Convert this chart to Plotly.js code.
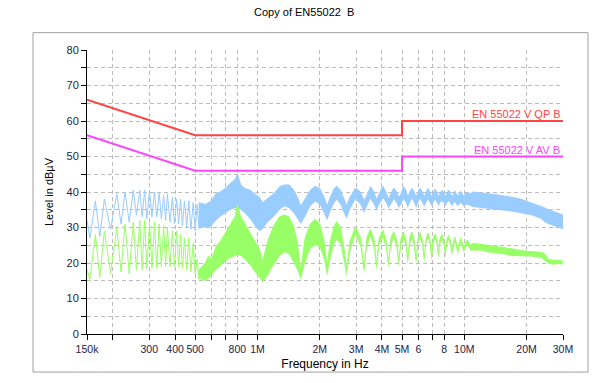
<!DOCTYPE html>
<html>
<head>
<meta charset="utf-8">
<script src="https://cdn.plot.ly/plotly-3.0.1.min.js"></script>
<style>
html,body{margin:0;padding:0;background:#fff;}
#chart{width:600px;height:383px;}
</style>
</head>
<body>
<div id="chart"></div>
<script>
// ---- Limit lines (frequency in MHz, level in dBµV) ----
const qpFreq  = [0.15, 0.5, 5, 5, 30];
const qpLevel = [66, 56, 56, 60, 60];
const avFreq  = [0.15, 0.5, 5, 5, 30];
const avLevel = [56, 46, 46, 50, 50];

// ---- Low-frequency part of the scans (individual oscillations) ----
const lowFreq = [0.150,0.155,0.1646,0.173,0.182,0.195,0.209,0.219,0.229,0.240,0.251,0.260,0.270,0.277,0.285,0.292,0.301,0.309,0.318,0.326,0.335,0.343,0.352,0.360,0.367,0.378,0.388,0.397,0.407,0.416,0.425,0.434,0.444,0.455,0.466,0.477,0.489,0.500,0.511,0.522];
const blueLow = [32,27,37.5,27.5,38,29.5,39.5,31,40,31.5,40.5,33.5,40.5,33,40.5,32.5,40.5,33,40,33,40,32.5,39,32,39.5,31.5,38.5,31,38,31,38,30.5,37.5,30,37.5,29.5,37,29,36.5,29.5];
const greenLow = [18,15.5,28,16,29,17,30,17.5,31,17,31.5,18,32,18,32,18.5,31.5,18.5,31.5,18.5,31,19,30.5,19,30,19,29,19,29,19,28,18.5,27,18,27,17.5,25.5,17,21,15.5];

// ---- Dense part of the scans: upper / lower envelope ----
const bandFreq = [0.52,0.56,0.58,0.60,0.63,0.66,0.70,0.74,0.78,0.80,0.83,0.87,0.92,0.97,1.02,1.06,
  1.12,1.2,1.28,1.35,1.42,1.5,1.56,1.62,
  1.7,1.8,1.9,2.0,2.1,2.17,
  2.25,2.35,2.42,2.52,2.62,2.7,
  2.8,2.98,3.15,3.28,
  3.38,3.52,3.66,3.76,
  3.88,4.04,4.18,4.3,
  4.42,4.56,4.7,4.82,
  4.95,5.08,5.22,5.33,
  5.45,5.58,5.72,5.85,
  5.98,6.12,6.27,6.4,
  6.54,6.68,6.82,6.95,
  7.08,7.22,7.37,7.5,
  7.65,7.8,7.95,8.1,
  8.25,8.4,8.55,8.7,
  9.0,9.3,9.6,9.95,10.3,10.7,
  11,12,13,14,15,16,17,18.7,21,23.5,24.5,25.5,27,28.5,30];
const blueHigh = [37,36.5,37,37.5,39.5,40,41,42.5,43.5,45,42,41,40.5,39.5,38.5,37,
  38,39.5,41.5,42,42,40.5,38.5,36,
  38,40.5,41.6,41,38.5,36,
  38.5,41,41.6,40.5,38,36,
  38.5,41.1,40,37.5,
  39,41.5,40,37.8,
  39.5,41.6,40,38,
  39.5,41.1,40,38.5,
  39.5,41.5,40.5,38.5,
  40,41,40,38.5,
  40,41,40,38.5,
  40,41,40,38.5,
  39.8,40.8,39.8,38.5,
  39.8,40.5,39.8,38.5,
  39.8,40.5,39.8,38.5,
  40.3,38.8,40.2,38.8,40,39.5,
  40,39.8,39.5,39.3,39,38.8,38.5,38,37,36,35.5,35,34.5,34,33.5];
const blueLowEnv = [30,30,30,30.5,32,33,34,35,35.5,35.5,35,34,32.5,30.5,29,29.5,
  31.5,33,35,36,35.5,34,32.5,31,
  33,36,37.3,36.5,34,32,
  34.5,37,37.8,36.5,34,32.5,
  35,38,36.5,34,
  36,38,36.5,34.9,
  36.5,38.3,37,35.4,
  36.5,38,37,35.5,
  36.5,38,37,35.5,
  37,38,37,35.5,
  37,38,37,35.8,
  37,37.8,37,36,
  37,37.8,37,36,
  37,37.5,37,36,
  37,37.5,36.8,36,
  37.2,36,37,36,36.5,36,
  35.8,35.5,35.3,35,35,34.8,34.5,34,33.5,32.5,31.5,31,30.5,30,29.5];
const greenHigh = [18,20,22,21,24.5,26,28.5,31,33,36.5,33,31,28.5,26,24,20.5,
  26,30.5,33,33.5,33,30,25.5,18,
  27,31,32.3,31,26,19,
  26,30.5,31.6,30,24,18,
  26,30.2,27,18.5,
  27,29.5,26.5,19.5,
  27,29.2,26.5,20,
  27,28.8,26.5,20.5,
  27,28.7,26.5,21,
  27,28.7,26.5,21,
  27,28.6,26.5,21.5,
  27,28.4,26.5,22,
  27,28.2,26.5,22.5,
  27,28,26.5,23,
  26.8,27.8,26.5,23.5,
  27.3,24,27,24.5,26.5,25,
  25.5,25.3,25,24.8,24.5,24.2,24,23.5,23.3,23,22.5,21,20.8,20.8,20.5];
const greenLowEnv = [15.5,15,15.5,16.5,18,19,20.5,21.5,22,22.5,22,21,19.5,17.5,16,14.5,
  16.5,19.5,22,23,22.5,20,18,15.3,
  20,24,25,24.5,21,16.3,
  21,25.5,26.5,25.5,20,16.3,
  23,28,24.5,17,
  24.5,27.5,24,18,
  25,27.2,24.5,18.5,
  25,27,24.5,19,
  25,27,24.5,19.5,
  25,27,24.5,19.5,
  25.5,27,25,20,
  25.5,27,25,20.5,
  25.5,26.8,25,21,
  25.5,26.5,25,21.5,
  25.5,26.5,25,22,
  26,22.5,25.5,23,25.2,23.5,
  23.5,23.5,23,22.8,22.5,22.3,22,22,21.8,21.5,20.5,19.8,19.5,19.7,19.6];

// ---- Axis ticks ----
const xTickVals = [0.15,0.2,0.3,0.4,0.5,0.6,0.7,0.8,1,2,3,4,5,6,7,8,10,20,30];
const xTickText = ["150k","","300","400","500","","","800","1M","2M","3M","4M","5M","6","","8","10M","20M","30M"];
const yTickVals = [0,10,20,30,40,50,60,70,80];

const BLUE = '#99ccff', GREEN = '#99ff66', RED = '#ff4444', MAG = '#ff44ff';

const traces = [
  {x: bandFreq, y: blueLowEnv, mode:'lines', line:{width:0, color:BLUE}, hoverinfo:'skip'},
  {x: bandFreq, y: blueHigh, mode:'lines', line:{width:1, color:BLUE}, fill:'tonexty', fillcolor:BLUE, hoverinfo:'skip'},
  {x: lowFreq, y: blueLow, mode:'lines', line:{width:1, color:BLUE}, hoverinfo:'skip'},
  {x: bandFreq, y: greenLowEnv, mode:'lines', line:{width:0, color:GREEN}, hoverinfo:'skip'},
  {x: bandFreq, y: greenHigh, mode:'lines', line:{width:1, color:GREEN}, fill:'tonexty', fillcolor:GREEN, hoverinfo:'skip'},
  {x: lowFreq, y: greenLow, mode:'lines', line:{width:1, color:GREEN}, hoverinfo:'skip'},
  {x: qpFreq, y: qpLevel, mode:'lines', line:{width:2, color:RED}, hoverinfo:'skip'},
  {x: avFreq, y: avLevel, mode:'lines', line:{width:2, color:MAG}, hoverinfo:'skip'}
];

const FONT = 'Liberation Sans, Arial, sans-serif';
const GRID = '#bcbcbc';

const layout = {
  width: 600, height: 383,
  margin: {l: 87, r: 37, t: 50, b: 49},
  paper_bgcolor: '#ffffff', plot_bgcolor: '#ffffff',
  showlegend: false,
  hovermode: false,
  font: {family: FONT, size: 11, color: '#000000'},
  title: {text: 'Copy of EN55022 \u00a0B', font: {family: FONT, size: 11, color: '#000000'},
          x: 0.507, xref: 'container', xanchor: 'center', y: 0.969, yref: 'container', yanchor: 'middle'},
  xaxis: {
    type: 'log', range: [Math.log10(0.15), Math.log10(30)],
    tickmode: 'array', tickvals: xTickVals, ticktext: xTickText, tickangle: 0,
    ticks: 'outside', ticklen: 5, tickcolor: '#000', tickwidth: 1,
    showline: true, linecolor: '#000', linewidth: 1, mirror: false,
    showgrid: true, gridcolor: GRID, griddash: '4px,3px', gridwidth: 1,
    zeroline: false,
    tickfont: {family: FONT, size: 10.5, color: '#1c1c4a'},
    title: {text: 'Frequency in Hz', font: {family: FONT, size: 12, color: '#000'}, standoff: 6}
  },
  yaxis: {
    range: [0, 80], tickmode: 'array', tickvals: yTickVals,
    ticks: 'outside', ticklen: 5, tickcolor: '#000', tickwidth: 1,
    showline: true, linecolor: '#000', linewidth: 1,
    showgrid: true, gridcolor: GRID, griddash: '4px,3px', gridwidth: 1,
    zeroline: false,
    minor: {dtick: 5, tick0: 0, ticks: 'outside', ticklen: 5, tickcolor: '#000', showgrid: true, gridcolor: GRID, griddash: '4px,3px'},
    tickfont: {family: FONT, size: 11, color: '#1c1c4a'},
    title: {text: 'Level in dBµV', font: {family: FONT, size: 11, color: '#000'}, standoff: 10}
  },
  shapes: [
    {type: 'rect', xref: 'paper', yref: 'paper', x0: -0.1134, x1: 1.0525, y0: -0.134, y1: 1.061,
     line: {color: '#a0a0a0', width: 1}, fillcolor: 'rgba(0,0,0,0)', layer: 'below'}
  ],
  annotations: [
    {text: 'EN 55022 V QP B', x: Math.log10(29.6), y: 60, xref: 'x', yref: 'y', xanchor: 'right', yanchor: 'bottom',
     showarrow: false, font: {family: FONT, size: 11, color: RED}, yshift: -1},
    {text: 'EN 55022 V AV B', x: Math.log10(29.6), y: 50, xref: 'x', yref: 'y', xanchor: 'right', yanchor: 'bottom',
     showarrow: false, font: {family: FONT, size: 11, color: MAG}, yshift: -1}
  ]
};

Plotly.newPlot('chart', traces, layout, {staticPlot: true, displayModeBar: false});
</script>
</body>
</html>
